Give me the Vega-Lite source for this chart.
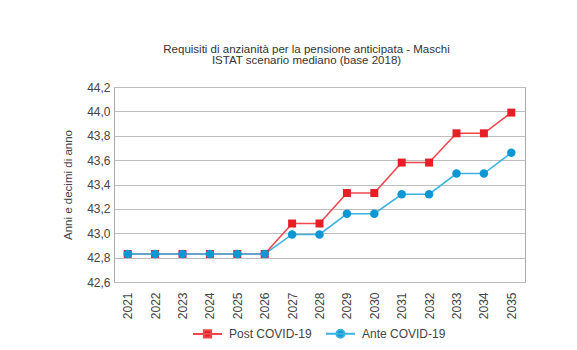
{
  "$schema": "https://vega.github.io/schema/vega-lite/v6.json",
  "width": 411,
  "height": 195,
  "autosize": {"type": "none"},
  "padding": {"left": 114, "top": 87, "right": 52, "bottom": 68},
  "title": {
    "text": ["Requisiti di anzianità per la pensione anticipata - Maschi", "ISTAT scenario mediano (base 2018)"],
    "fontSize": 11.5,
    "font": "Liberation Sans",
    "fontWeight": "normal",
    "color": "#333333",
    "anchor": "middle",
    "dx": -13,
    "offset": 15,
    "lineHeight": 11
  },
  "data": {
    "values": [
      {"year": "2021", "series": "Post COVID-19", "value": 42.83},
      {"year": "2022", "series": "Post COVID-19", "value": 42.83},
      {"year": "2023", "series": "Post COVID-19", "value": 42.83},
      {"year": "2024", "series": "Post COVID-19", "value": 42.83},
      {"year": "2025", "series": "Post COVID-19", "value": 42.83},
      {"year": "2026", "series": "Post COVID-19", "value": 42.83},
      {"year": "2027", "series": "Post COVID-19", "value": 43.08},
      {"year": "2028", "series": "Post COVID-19", "value": 43.08},
      {"year": "2029", "series": "Post COVID-19", "value": 43.33},
      {"year": "2030", "series": "Post COVID-19", "value": 43.33},
      {"year": "2031", "series": "Post COVID-19", "value": 43.58},
      {"year": "2032", "series": "Post COVID-19", "value": 43.58},
      {"year": "2033", "series": "Post COVID-19", "value": 43.82},
      {"year": "2034", "series": "Post COVID-19", "value": 43.82},
      {"year": "2035", "series": "Post COVID-19", "value": 43.99},
      {"year": "2021", "series": "Ante COVID-19", "value": 42.83},
      {"year": "2022", "series": "Ante COVID-19", "value": 42.83},
      {"year": "2023", "series": "Ante COVID-19", "value": 42.83},
      {"year": "2024", "series": "Ante COVID-19", "value": 42.83},
      {"year": "2025", "series": "Ante COVID-19", "value": 42.83},
      {"year": "2026", "series": "Ante COVID-19", "value": 42.83},
      {"year": "2027", "series": "Ante COVID-19", "value": 42.99},
      {"year": "2028", "series": "Ante COVID-19", "value": 42.99},
      {"year": "2029", "series": "Ante COVID-19", "value": 43.16},
      {"year": "2030", "series": "Ante COVID-19", "value": 43.16},
      {"year": "2031", "series": "Ante COVID-19", "value": 43.32},
      {"year": "2032", "series": "Ante COVID-19", "value": 43.32},
      {"year": "2033", "series": "Ante COVID-19", "value": 43.49},
      {"year": "2034", "series": "Ante COVID-19", "value": 43.49},
      {"year": "2035", "series": "Ante COVID-19", "value": 43.66}
    ]
  },
  "encoding": {
    "x": {
      "field": "year",
      "type": "ordinal",
      "axis": {
        "title": null,
        "labelAngle": -90,
        "ticks": false,
        "domain": false,
        "labelPadding": 10,
        "labelFontSize": 12,
        "labelFont": "Liberation Sans",
        "labelColor": "#444444"
      }
    },
    "y": {
      "field": "value",
      "type": "quantitative",
      "scale": {"domain": [42.6, 44.2], "nice": false, "zero": false},
      "axis": {
        "title": "Anni e decimi di anno",
        "titleFont": "Liberation Sans",
        "titleFontSize": 11.5,
        "titleFontWeight": "normal",
        "titleColor": "#444444",
        "titlePadding": 13,
        "values": [42.6, 42.8, 43.0, 43.2, 43.4, 43.6, 43.8, 44.0, 44.2],
        "labelExpr": "replace(format(datum.value, '.1f'), '.', ',')",
        "ticks": false,
        "domain": false,
        "labelPadding": 4,
        "labelFontSize": 12,
        "labelFont": "Liberation Sans",
        "labelColor": "#444444",
        "grid": true,
        "gridColor": "#bdbdbd",
        "gridWidth": 1.2
      }
    }
  },
  "layer": [
    {
      "mark": {"type": "point", "filled": true, "opacity": 1, "strokeWidth": 2, "size": 0},
      "encoding": {
        "fill": {
          "field": "series",
          "type": "nominal",
          "scale": {"domain": ["Post COVID-19", "Ante COVID-19"], "range": ["#e81e27", "#0b97d4"]},
          "legend": {"title": null, "orient": "none", "legendX": 78, "legendY": 231, "direction": "horizontal"}
        },
        "stroke": {
          "field": "series",
          "type": "nominal",
          "scale": {"domain": ["Post COVID-19", "Ante COVID-19"], "range": ["#f0464d", "#3cb2e2"]},
          "legend": {"title": null, "orient": "none", "legendX": 78, "legendY": 231, "direction": "horizontal"}
        },
        "shape": {
          "field": "series",
          "type": "nominal",
          "scale": {
            "domain": ["Post COVID-19", "Ante COVID-19"],
            "range": [
              "M-1,0H1M-0.25,-0.25H0.25V0.25H-0.25Z",
              "M-1,0H1M0.28,0A0.28,0.28 0 1,1 -0.28,0A0.28,0.28 0 1,1 0.28,0Z"
            ]
          },
          "legend": {"title": null, "orient": "none", "legendX": 78, "legendY": 231, "direction": "horizontal"}
        }
      }
    },
    {
      "mark": {"type": "line", "strokeWidth": 1.6},
      "encoding": {
        "color": {
          "field": "series",
          "type": "nominal",
          "scale": {"domain": ["Post COVID-19", "Ante COVID-19"], "range": ["#f0464d", "#3cb2e2"]},
          "legend": null
        }
      }
    },
    {
      "transform": [{"filter": "datum.series == 'Post COVID-19'"}],
      "mark": {"type": "point", "filled": true, "shape": "square", "size": 64, "color": "#e81e27", "opacity": 1}
    },
    {
      "transform": [{"filter": "datum.series == 'Ante COVID-19'"}],
      "mark": {"type": "point", "filled": true, "shape": "circle", "size": 72, "color": "#0b97d4", "opacity": 1}
    }
  ],
  "config": {
    "view": {"stroke": "#a8a8a8", "strokeWidth": 1},
    "legend": {
      "symbolSize": 841,
      "symbolStrokeWidth": 2,
      "labelFontSize": 12,
      "labelFont": "Liberation Sans",
      "labelColor": "#444444",
      "labelOffset": 6,
      "columnPadding": 10,
      "padding": 0
    }
  }
}
